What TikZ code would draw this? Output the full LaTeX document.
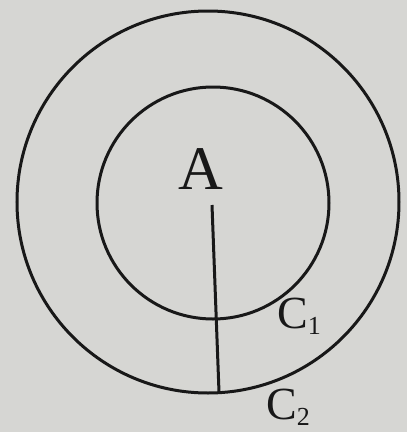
\documentclass[tikz,border=0pt]{standalone}
\usepackage{fontspec}
\setmainfont{Liberation Serif}
\definecolor{paper}{RGB}{214,214,211}
\definecolor{ink}{RGB}{24,24,24}
\newcommand{\sub}[1]{\raisebox{-6pt}{\fontsize{26}{26}\selectfont #1}}

\begin{document}
\begin{tikzpicture}[x=1pt, y=-1pt, every node/.style={inner sep=0pt, text=ink},
  ring/.style={draw=ink, line width=3pt}]
\useasboundingbox[fill=paper] (0,0) rectangle (407,432);
\coordinate (O2) at (208,202);
\coordinate (O1) at (213,203);
\coordinate (top) at (212,205);
\coordinate (bot) at (219,392);
\draw[ring] (O2) circle[radius=191pt];
\draw[ring] (O1) circle[radius=116pt];
\draw[ring] (top) -- (bot);
\node[font=\fontsize{62}{62}\selectfont] (A) at (201,169) {A};
\node[anchor=base west, font=\fontsize{46}{46}\selectfont] (C1) at (277,328) {C\sub{1}};
\node[anchor=base west, font=\fontsize{46}{46}\selectfont] (C2) at (266,419) {C\sub{2}};
\end{tikzpicture}
\end{document}
